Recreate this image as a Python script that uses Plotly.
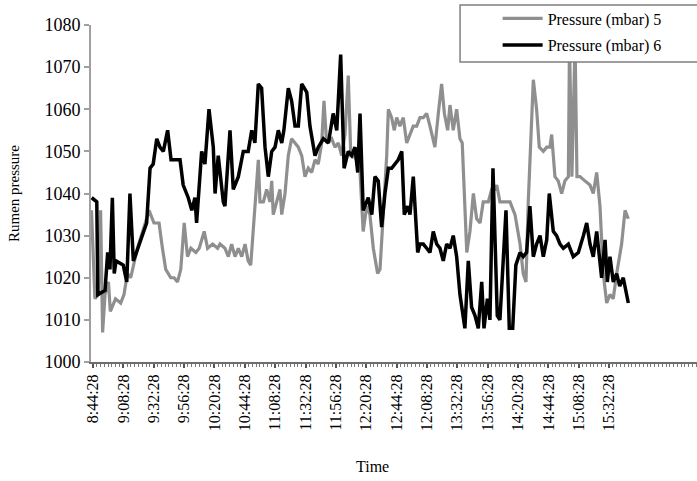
import plotly.graph_objects as go

# Minutes after 8:44:28 and pressure readings (mbar)
t5 = [-1.2, 1.5, 4.1, 6.0, 7.6, 9.5, 12.2, 13.7, 17.8, 21.9, 24.5, 27.2, 29.8, 32.5, 35.1,
      40.3, 44.3, 48.2, 52.2, 54.9, 57.5, 61.5, 64.1, 66.8, 69.4, 72.1, 74.7, 77.4, 81.3,
      84.0, 87.9, 90.6, 94.6, 98.5, 100.4, 104.3, 107.0, 109.6, 112.3, 114.9, 117.6, 120.2,
      122.7, 124.7, 125.9, 128.0, 130.7, 132.0, 134.7, 137.3, 139.9, 141.3, 142.5, 145.2,
      147.8, 149.2, 151.8, 154.4, 157.0, 159.7, 162.3, 165.0, 167.6, 170.2, 172.9, 175.5,
      178.1, 180.8, 182.6, 184.7, 188.7, 191.3, 193.9, 196.6, 199.2, 201.8, 203.8, 205.8,
      208.4, 211.1, 213.6, 216.4, 218.9, 221.6, 225.0, 226.9, 229.5, 232.2, 233.5, 236.1,
      238.2, 240.1, 242.6, 245.3, 248.0, 250.6, 253.2, 255.9, 258.5, 261.1, 263.8, 266.4,
      270.3, 273.0, 275.6, 277.8, 280.4, 282.2, 284.8, 287.5, 290.1, 291.9, 295.5, 298.0,
      300.7, 303.3, 306.0, 308.5, 312.5, 315.2, 317.8, 319.2, 321.7, 325.7, 329.7, 333.6,
      337.6, 340.1, 342.3, 344.1, 345.4, 348.1, 350.7, 352.8, 356.0, 358.7, 361.2, 362.6,
      365.2, 367.8, 370.5, 373.1, 375.8, 376.7, 378.6, 381.1, 382.6, 385.0, 388.9, 392.9,
      395.5, 398.2, 400.8, 403.4, 406.1, 408.7, 411.3, 414.0, 417.9, 420.6, 423.2]
p5 = [1036, 1015, 1016, 1036, 1007, 1016, 1019, 1012, 1015, 1014, 1016, 1021, 1020, 1024, 1027,
      1032, 1036, 1033, 1033, 1027, 1022, 1020, 1020, 1019, 1022, 1033, 1025, 1027, 1026,
      1027, 1031, 1027, 1028, 1027, 1028, 1027, 1025, 1028, 1025, 1027, 1025, 1028,
      1024, 1023, 1028, 1038, 1048, 1038, 1038, 1041, 1038, 1043, 1035, 1038,
      1041, 1035, 1040, 1049, 1053, 1052, 1051, 1049, 1044, 1046, 1045, 1048,
      1047, 1052, 1062, 1052, 1053, 1051, 1052, 1049, 1054, 1068, 1049, 1049,
      1048, 1045, 1031, 1037, 1035, 1027, 1021, 1022, 1034, 1049, 1060, 1058,
      1055, 1058, 1056, 1058, 1052, 1054, 1056, 1056, 1058, 1058, 1059, 1056,
      1051, 1059, 1066, 1059, 1055, 1061, 1055, 1060, 1053, 1052, 1026, 1031,
      1040, 1034, 1033, 1038, 1038, 1041, 1041, 1042, 1038, 1038, 1038, 1035,
      1028, 1021, 1019, 1038, 1049, 1067, 1060, 1051, 1050, 1051, 1051, 1054,
      1044, 1043, 1040, 1043, 1044, 1076, 1044, 1076, 1044, 1044, 1043, 1042,
      1040, 1045, 1037, 1021, 1014, 1016, 1015, 1021, 1028, 1036, 1034]

t6 = [-1.0, 3.0, 3.8, 9.5, 11.6, 13.4, 15.3, 16.8, 18.2, 23.9, 26.7, 29.2, 31.9, 33.2, 42.4,
      45.1, 47.6, 50.4, 52.9, 55.6, 59.0, 61.7, 68.8, 71.3, 75.3, 78.1, 80.6, 81.9, 85.9,
      88.5, 91.7, 95.1, 96.5, 99.0, 103.0, 104.3, 108.3, 110.9, 114.9, 118.8, 122.7, 125.5,
      128.0, 130.7, 133.3, 136.0, 138.6, 141.3, 143.9, 146.5, 149.2, 150.9, 154.4, 157.0,
      159.7, 162.3, 165.0, 169.0, 171.5, 175.5, 178.1, 182.1, 186.1, 189.9, 192.7, 195.8,
      198.5, 201.8, 204.5, 207.1, 209.3, 211.1, 213.6, 217.6, 220.4, 222.9, 225.5, 228.2,
      230.8, 233.5, 236.1, 238.8, 241.3, 244.1, 246.1, 248.8, 250.6, 253.2, 254.6, 256.7,
      258.5, 261.1, 263.8, 266.4, 269.0, 271.7, 274.3, 276.9, 279.6, 282.2, 284.8, 287.5,
      290.1, 294.0, 296.7, 299.3, 302.0, 304.6, 307.3, 309.1, 311.8, 313.8, 316.2, 319.6,
      321.7, 324.4, 326.5, 329.1, 331.8, 334.3, 337.6, 340.1, 342.8, 345.4, 348.1, 350.7,
      353.4, 356.0, 358.7, 360.7, 363.9, 366.5, 369.2, 371.8, 375.8, 379.7, 383.7, 387.7,
      390.3, 392.9, 395.5, 398.2, 402.1, 404.8, 406.6, 408.7, 411.3, 414.0, 416.4, 419.2,
      423.2]
p6 = [1039, 1038, 1016, 1017, 1026, 1022, 1039, 1021, 1024, 1023, 1019, 1040, 1024, 1025, 1033,
      1046, 1047, 1053, 1051, 1050, 1055, 1048, 1048, 1042, 1039, 1036, 1039, 1033, 1050,
      1047, 1060, 1051, 1040, 1049, 1038, 1037, 1055, 1041, 1044, 1050, 1050, 1055,
      1052, 1066, 1065, 1051, 1044, 1050, 1051, 1055, 1052, 1055, 1065, 1062,
      1056, 1056, 1066, 1064, 1056, 1049, 1051, 1053, 1052, 1059, 1055, 1073,
      1046, 1050, 1049, 1051, 1045, 1059, 1036, 1039, 1035, 1044, 1043, 1032,
      1040, 1046, 1046, 1047, 1048, 1050, 1035, 1037, 1035, 1044, 1037, 1026,
      1028, 1028, 1027, 1026, 1031, 1028, 1027, 1024, 1028, 1027, 1030, 1025,
      1016, 1008, 1024, 1013, 1011, 1008, 1019, 1008, 1015, 1010, 1046, 1011,
      1010, 1027, 1036, 1008, 1008, 1023, 1026, 1025, 1026, 1037, 1025, 1028,
      1030, 1025, 1029, 1040, 1031, 1030, 1028, 1027, 1028, 1025, 1026, 1030,
      1033, 1028, 1025, 1031, 1020, 1029, 1019, 1025, 1019, 1021, 1018, 1020,
      1014]

tick_minutes = [0, 24, 48, 72, 96, 120, 144, 168, 192, 216, 240, 264, 288, 312, 336, 360, 384, 408]
tick_labels = ["8:44:28", "9:08:28", "9:32:28", "9:56:28", "10:20:28", "10:44:28", "11:08:28",
               "11:32:28", "11:56:28", "12:20:28", "12:44:28", "12:08:28", "13:32:28",
               "13:56:28", "14:20:28", "14:44:28", "15:08:28", "15:32:28"]

series_names = ["Pressure (mbar) 5", "Pressure (mbar) 6"]

FONT = "Liberation Serif, Times New Roman, serif"

fig = go.Figure()
fig.add_trace(go.Scatter(x=t5, y=p5, mode="lines", name=series_names[0],
                         legendgroup="a",
                         line=dict(color="#8f8f8f", width=3.2)))
fig.add_trace(go.Scatter(x=t6, y=p6, mode="lines", name=series_names[1],
                         legendgroup="b",
                         line=dict(color="#000000", width=3.5)))

fig.update_layout(
    width=697, height=481,
    margin=dict(l=91, r=0, t=25, b=119, autoexpand=False),
    paper_bgcolor="white", plot_bgcolor="white",
    font=dict(family=FONT, color="black"),
    showlegend=True,
    legend=dict(x=0.671, y=1.07, xanchor="left", yanchor="top",
                bgcolor="rgba(0,0,0,0)", borderwidth=0,
                font=dict(family=FONT, size=16, color="black"),
                itemwidth=40, tracegroupgap=3),
    shapes=[dict(type="rect", xref="paper", yref="paper",
                 x0=0.609, x1=1.01, y0=0.890, y1=1.059,
                 line=dict(color="#7f7f7f", width=1.5),
                 fillcolor="white", layer="above")],
    annotations=[
        dict(text="Rumen pressure", xref="paper", yref="paper", x=-0.127, y=0.4985,
             textangle=-90, showarrow=False, font=dict(family=FONT, size=15),
             xanchor="center", yanchor="middle"),
        dict(text="Time", xref="paper", yref="paper", x=0.464, y=-0.309,
             showarrow=False, font=dict(family=FONT, size=16),
             xanchor="center", yanchor="middle"),
    ],
)

fig.update_xaxes(
    range=[-1.58, 477.5], automargin=False, showgrid=False, zeroline=False,
    showline=True, linecolor="#6e6e6e", linewidth=2,
    tickmode="array", tickvals=tick_minutes, ticktext=tick_labels,
    tickangle=-90, ticks="outside", ticklen=4, tickcolor="#555", tickwidth=1.5,
    tickfont=dict(family=FONT, size=16, color="black"),
    minor=dict(dtick=3, tick0=0, ticks="outside", ticklen=3, tickcolor="#777", tickwidth=1),
)
fig.update_yaxes(
    range=[1000, 1080], dtick=10, automargin=False, showgrid=False, zeroline=False,
    showline=True, linecolor="#a0a0a0", linewidth=2,
    ticks="outside", ticklen=5, tickcolor="#a0a0a0", tickwidth=1.5,
    tickfont=dict(family=FONT, size=18, color="black"),
)

fig.write_html("out.html", config={"displayModeBar": False},
               post_script="document.body.style.margin='0';document.body.style.overflow='hidden';")
